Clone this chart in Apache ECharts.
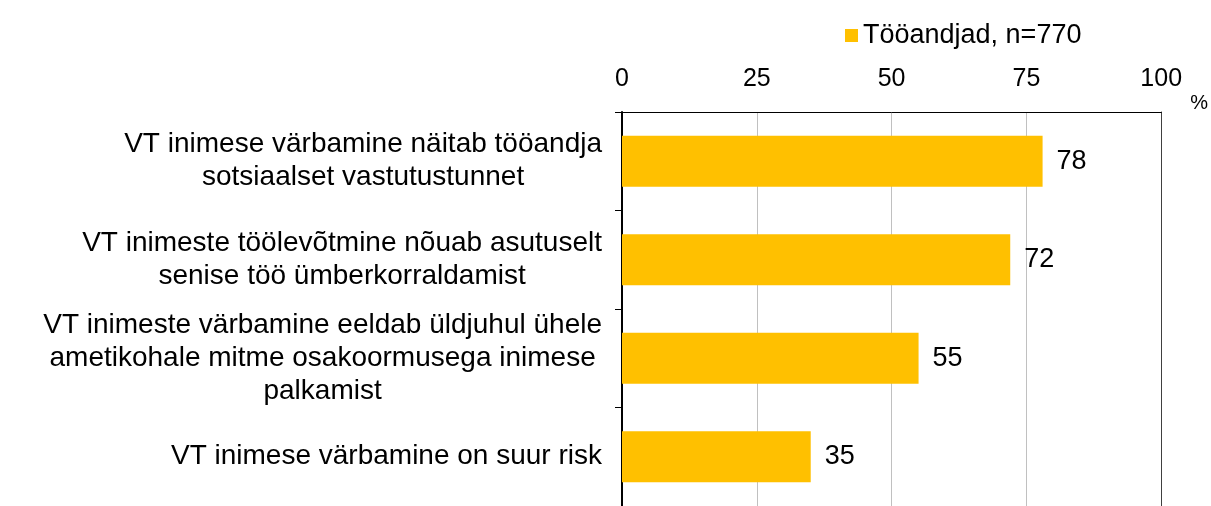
<!DOCTYPE html>
<html>
<head>
<meta charset="utf-8">
<script src="https://cdn.jsdelivr.net/npm/echarts@6/dist/echarts.min.js"></script>
<style>
  html, body { margin: 0; padding: 0; background: #fff; }
  #chart { width: 1211px; height: 506px; }
</style>
</head>
<body>
<div id="chart"></div>
<script>
// andmed
const categories = [
  'VT inimese värbamine näitab tööandja\nsotsiaalset vastutustunnet',
  'VT inimeste töölevõtmine nõuab asutuselt\nsenise töö ümberkorraldamist',
  'VT inimeste värbamine eeldab üldjuhul ühele\nametikohale mitme osakoormusega inimese\npalkamist',
  'VT inimese värbamine on suur risk'
]
const seriesName = 'Tööandjad, n=770'
const values = [78, 72, 55, 35]
const xTicks = [0, 25, 50, 75, 100]

const font = 'Arial, "Liberation Sans", sans-serif'
const chart = echarts.init(document.getElementById('chart'))

chart.setOption({
  animation: false,
  textStyle: { fontFamily: font, color: '#000' },
  legend: {
    data: [seriesName],
    left: 840,
    top: 17,
    icon: 'rect',
    itemWidth: 13,
    itemHeight: 13,
    itemGap: 2,
    textStyle: { fontSize: 27, color: '#000', fontFamily: font }
  },
  grid: {
    left: 622,
    right: 47,
    top: 112,
    bottom: -6
  },
  xAxis: {
    type: 'value',
    position: 'top',
    min: xTicks[0],
    max: xTicks[xTicks.length - 1],
    interval: 25,
    name: '%',
    nameLocation: 'end',
    nameGap: 29,
    nameTextStyle: { fontSize: 20, color: '#000', verticalAlign: 'top', padding: [-19, 0, 0, 0] },
    axisLine: { show: true, lineStyle: { color: '#000', width: 1 } },
    axisTick: { show: false },
    axisLabel: { fontSize: 25, color: '#000', margin: 20 },
    splitLine: { show: true, lineStyle: { color: '#c0c0c0', width: 1 } }
  },
  yAxis: [
    {
      type: 'category',
      inverse: true,
      data: categories,
      axisLine: { show: true, lineStyle: { color: '#000', width: 2 } },
      axisTick: { show: true, length: 7, lineStyle: { color: '#000' } },
      axisLabel: {
        margin: 20,
        align: 'right',
        formatter: (v) => v.split('\n').map(l => '{c|' + l + '}').join('\n'),
        rich: {
          c: { align: 'center', fontSize: 28, lineHeight: 33, color: '#000', fontFamily: font }
        }
      }
    },
    {
      // parempoolne raamjoon
      type: 'category',
      position: 'right',
      inverse: true,
      data: categories,
      axisLine: { show: true, lineStyle: { color: '#404040', width: 1 } },
      axisTick: { show: false },
      axisLabel: { show: false }
    }
  ],
  series: [
    {
      name: seriesName,
      type: 'bar',
      data: values,
      barWidth: 51,
      itemStyle: { color: '#FFC000' },
      label: {
        show: true,
        position: 'right',
        distance: 14,
        fontSize: 27,
        color: '#000',
        fontFamily: font
      }
    }
  ]
})
</script>
</body>
</html>
